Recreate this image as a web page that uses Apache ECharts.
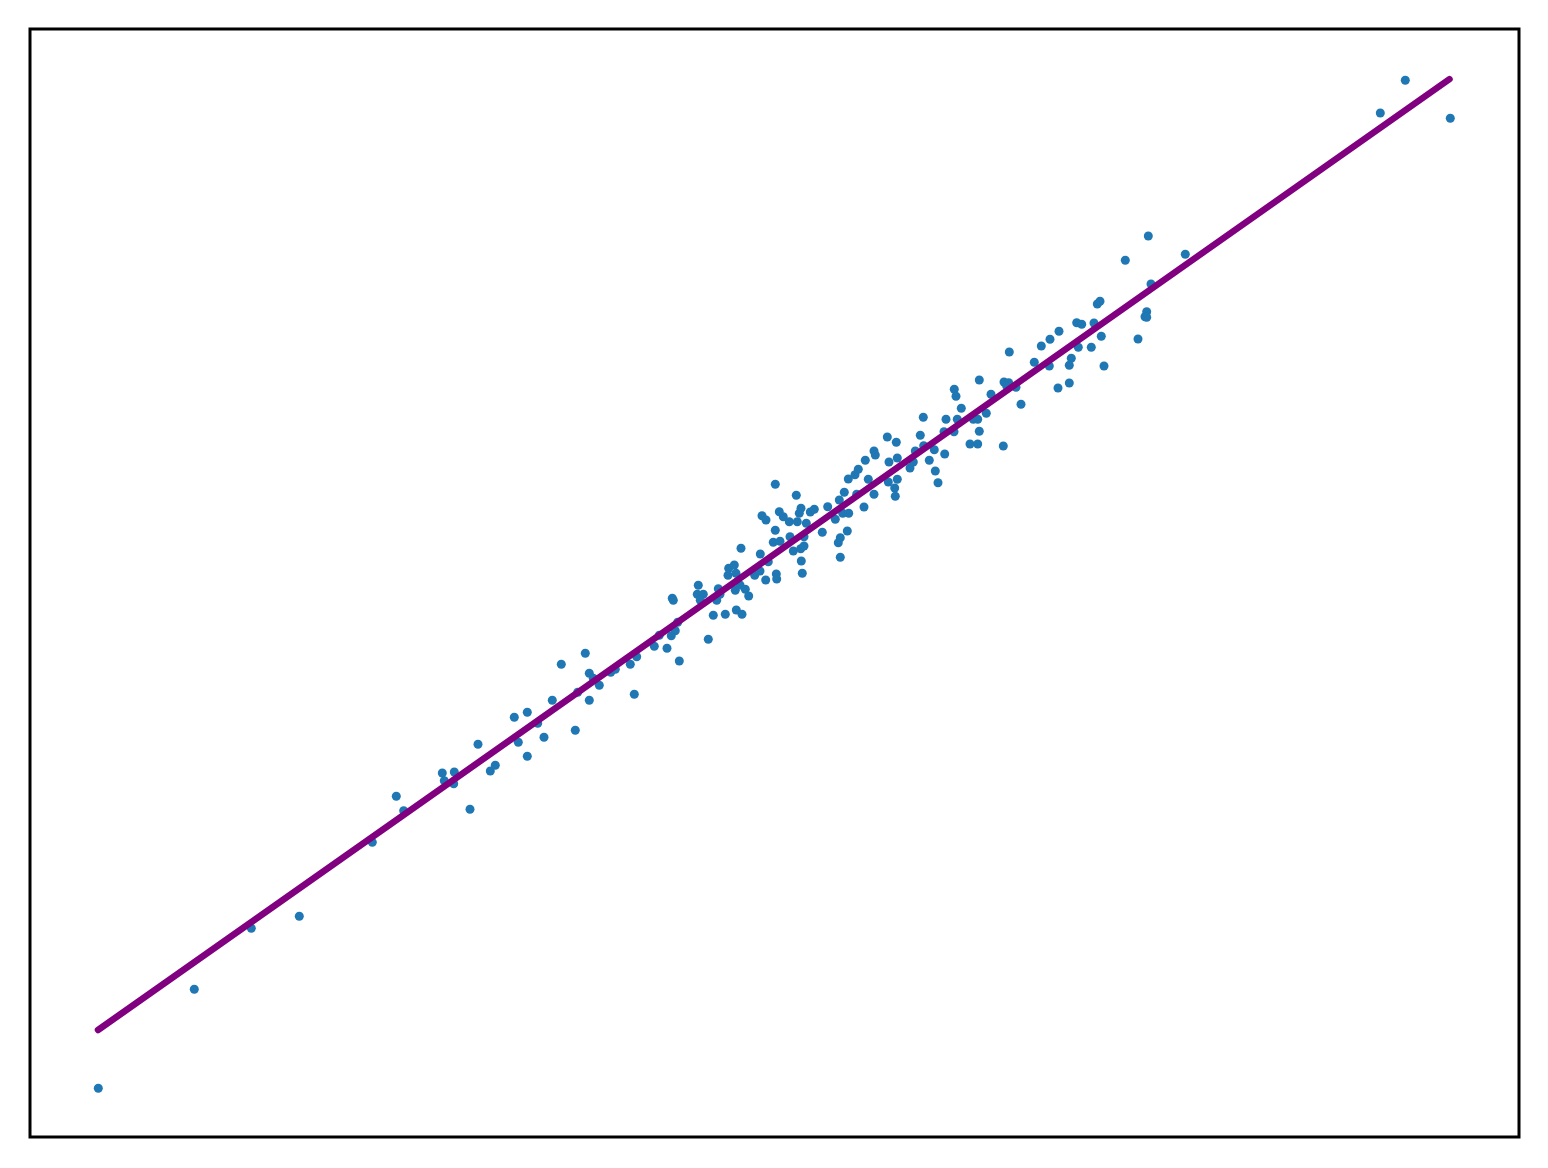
<!DOCTYPE html>
<html>
<head>
<meta charset="utf-8">
<script src="https://cdn.jsdelivr.net/npm/echarts@6/dist/echarts.min.js"></script>
<style>html,body{margin:0;padding:0;background:#fff;}#c{width:1548px;height:1168px;}</style>
</head>
<body>
<div id="c"></div>
<script>
// scatter point values (x, y)
const xValues = [98.3,194.3,251.3,299.3,372.3,396.3,403.7,442.3,454.3,444.3,453.7,470,478,490.3,495.3,514.3,527.3,518.3,527.3,537.7,544,552.3,561.3,575.3,577.7,585.3,589.3,589.3,593.3,599.3,610.7,615.3,630.3,636.7,634.3,654.3,659.3,667,671.3,675.3,677.7,679.3,672.3,673.3,698.3,697.3,703.3,700.3,708.3,713.3,718.3,720,716.7,725.3,728.7,734.3,728,736,735.3,740,745.3,748.7,736.3,742,754.7,737.7,741,760.3,768.3,776.3,776.7,765.7,760,775.3,796.3,762,766,779.3,783.3,789.3,797.3,799.3,801,806.3,810.3,814.3,827.7,835.3,842.7,848.7,822.3,847.3,840.3,838.3,840.3,775.3,773.3,780,790,804,793.3,800.7,804,801.3,802.3,848.3,855,844.3,839.3,923.3,946,961.3,957.3,973.3,977.7,986.3,979.3,970,977.7,920.3,944,954,887.3,896.3,874,875.3,865.3,858.3,856.7,868.3,874,864,889,897.3,897.3,888.3,894.7,895.3,910,913.3,915.3,923.7,934.3,929.3,935.3,938,944.7,1097.3,1100,1076.7,1081.7,1094,1101.3,1091.3,1078.3,1104,1059,1050,1041.3,1071.3,1069.3,1049.3,1069.3,1058,1034.3,1009.3,1004,1008.7,1006.7,1016,1021,979.3,991,954.3,956,1003.3,1148.3,1125.3,1185.3,1151,1146.7,1145,1146.7,1138,1405.3,1380.3,1450.3];
const yPix = [1088.3,989.3,928.3,916.3,842.3,796.3,810.7,773,772,780.7,783.7,809.3,744.3,771,765.3,717.3,712.3,742.3,756.3,723.3,737.3,700.3,664.3,730.3,692.3,653.3,673.3,700.3,678.3,685.3,672.3,669.3,664.3,656.7,694.3,646.3,635.3,648.3,635.7,630.7,622.3,661,598.3,600.3,585.3,594.3,594.3,600.3,639.3,615.3,588.7,594.3,600.3,614.3,568.3,565,575.3,573.3,590.3,585,589.3,596,610,614.3,575.3,581.7,548.3,554,561.7,574,579,580,571,484.3,495.3,515.7,520,511.7,516.7,521.7,521.7,513.3,508.3,523.3,512,509.3,506.7,519.3,513.3,513.3,532.3,531,537.7,542.7,557.3,530.3,542.3,541.3,536.7,536.7,551,548.7,546,561,573.3,479,474.7,492.3,500,417.3,419.3,408.3,419.3,419.3,419.3,413.3,431.3,444,444,435.3,431.7,431.7,437,442.3,451,455,460.3,469.3,494.3,479.3,494.3,507,462,458,479.3,482,488,496.3,468,462,451,445.7,449.7,460.3,471,482.7,454,304,301.3,322.7,324.3,323,336.3,347.3,347.3,366,331.3,339.3,346,358.3,365.3,366,383,388,362.3,352,382,382.7,386,387.3,404.3,380,394.3,389.3,396.3,446,236,260.3,254.3,284,311.7,316.7,317.3,339,80.3,113,118.3];
const yValues = yPix.map(v => +(1137 - v).toFixed(1));
// fitted line end points
const fitX = [98, 1449.5];
const fitY = [107, 1057.8];

const scatterData = xValues.map((x, i) => [x, yValues[i]]);
const lineData = fitX.map((x, i) => [x, fitY[i]]);

const chart = echarts.init(document.getElementById('c'), null, {renderer: 'canvas'});
chart.setOption({
  animation: false,
  backgroundColor: '#ffffff',
  grid: {left: 30, right: 29, top: 29, bottom: 31, show: true, borderColor: '#000000', borderWidth: 3, backgroundColor: 'transparent'},
  xAxis: {type: 'value', min: 30, max: 1519, axisLine: {show: false}, axisTick: {show: false}, axisLabel: {show: false}, splitLine: {show: false}},
  yAxis: {type: 'value', min: 0, max: 1108, axisLine: {show: false}, axisTick: {show: false}, axisLabel: {show: false}, splitLine: {show: false}},
  series: [
    {type: 'scatter', data: scatterData, symbolSize: 9, itemStyle: {color: '#1f77b4', opacity: 1}, z: 2},
    {type: 'line', data: lineData, symbol: 'none', lineStyle: {color: '#800080', width: 6.5, cap: 'round'}, z: 3}
  ]
});
</script>
</body>
</html>
